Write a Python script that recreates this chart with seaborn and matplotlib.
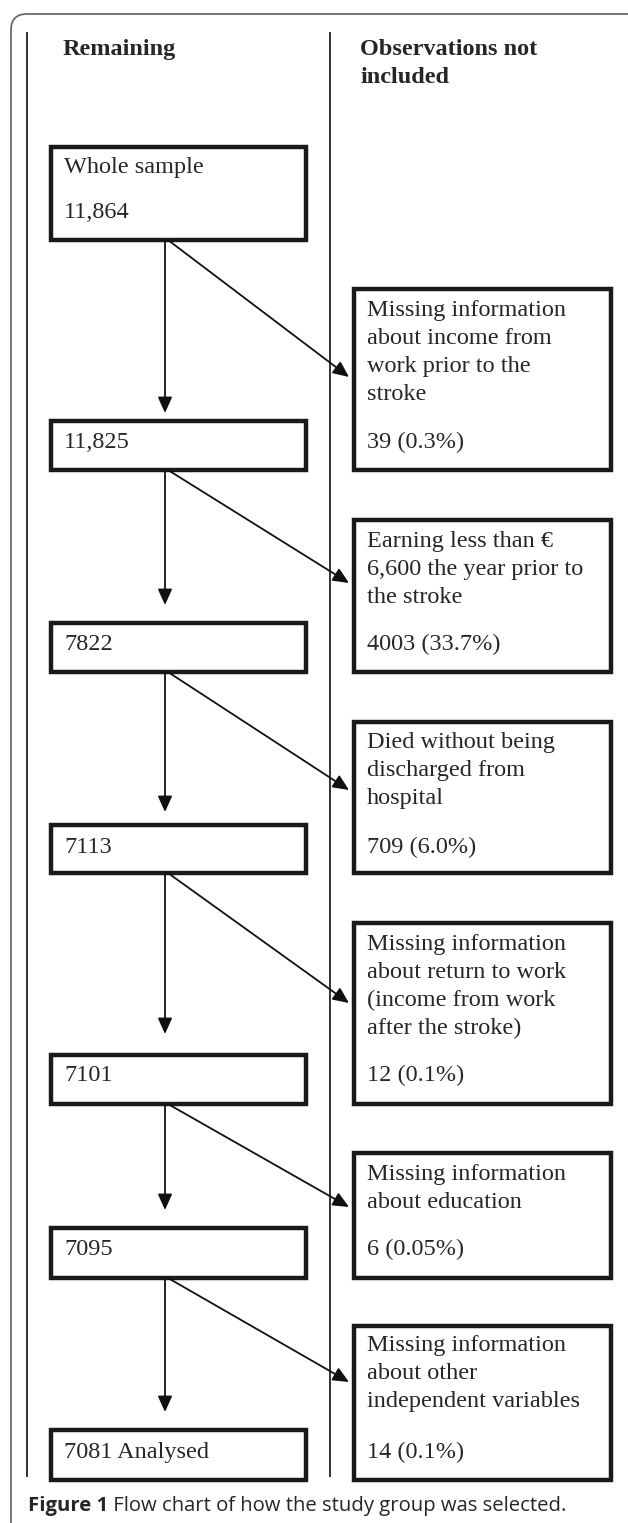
import matplotlib
matplotlib.use("Agg")
import matplotlib.pyplot as plt
from matplotlib.patches import Rectangle, FancyBboxPatch
import seaborn as sns

# ---- data ----
col_headers = ["Remaining", "Observations not\nincluded"]
first_label = "Whole sample"
remaining_labels = ["11,864", "11,825", "7822", "7113", "7101", "7095", "7081 Analysed"]
reasons = [
    ["Missing information", "about income from", "work prior to the", "stroke"],
    ["Earning less than \u20ac", "6,600 the year prior to", "the stroke"],
    ["Died without being", "discharged from", "hospital"],
    ["Missing information", "about return to work", "(income from work", "after the stroke)"],
    ["Missing information", "about education"],
    ["Missing information", "about other", "independent variables"],
]
excluded_counts = [39, 4003, 709, 12, 6, 14]
excluded_pct = ["0.3%", "33.7%", "6.0%", "0.1%", "0.05%", "0.1%"]
caption_bold = "Figure 1"
caption_rest = " Flow chart of how the study group was selected."

# ---- layout (pixel coordinates, y downwards) ----
W, H = 628, 1523
left_x = (51, 306)
right_x = (354, 611)
left_top = [147, 421, 623, 825, 1055, 1228, 1430]
left_bot = [240, 470, 672, 873, 1104, 1278, 1480]
right_top = [289, 520, 722, 923, 1153, 1326]
down_tip = [413, 605, 812, 1034, 1210, 1412]
diag_tip = [377, 583, 790, 1003, 1207, 1382]
num_y = [210, 440, 642, 845, 1073, 1247, 1450]
reason_y0 = [308, 539, 740, 942, 1172, 1343]
line_gap = 28

sns.set_theme(style="white")
serif = ["Liberation Serif", "DejaVu Serif"]
sans = ["Open Sans", "DejaVu Sans"]
fs = 17.5
base = 8  # offset from visual centre to baseline

fig = plt.figure(figsize=(W / 100, H / 100), dpi=100)
ax = fig.add_axes([0, 0, 1, 1])
ax.set_xlim(0, W)
ax.set_ylim(H, 0)
ax.axis("off")

# outer rounded frame (partly cut by the page)
ax.add_patch(FancyBboxPatch((11, 14), 640, 1560, boxstyle="round,pad=0,rounding_size=16",
                            fill=False, ec="#6b6b6b", lw=1.3))

# column separators
for x in (27, 330):
    ax.plot([x, x], [32, 1477], color="#111111", lw=1.2, solid_capstyle="butt")

# headers
ax.text(63, 47 + base, col_headers[0], family=serif, weight="bold", fontsize=fs, va="baseline")
for i, line in enumerate(col_headers[1].split("\n")):
    ax.text(360, 47 + base + i * line_gap, line, family=serif, weight="bold", fontsize=fs,
            va="baseline")

box_kw = dict(fill=False, ec="#1a1a1a", lw=3.2, joinstyle="miter")

# left column boxes
for i, lab in enumerate(remaining_labels):
    ax.add_patch(Rectangle((left_x[0], left_top[i]), left_x[1] - left_x[0],
                           left_bot[i] - left_top[i], **box_kw))
    if i == 0:
        ax.text(64, 165 + base, first_label, family=serif, fontsize=fs, va="baseline")
    ax.text(64, num_y[i] + base, lab, family=serif, fontsize=fs, va="baseline")

arrow_kw = dict(arrowstyle="-|>,head_length=0.6,head_width=0.27", color="#111111", lw=1.3,
                mutation_scale=16, shrinkA=0, shrinkB=0)

# right column boxes + arrows
for i, lines in enumerate(reasons):
    top, bot = right_top[i], left_bot[i + 1]
    ax.add_patch(Rectangle((right_x[0], top), right_x[1] - right_x[0], bot - top, **box_kw))
    for j, line in enumerate(lines):
        ax.text(367, reason_y0[i] + base + j * line_gap, line, family=serif, fontsize=fs,
                va="baseline")
    ax.text(367, num_y[i + 1] + base, f"{excluded_counts[i]:d} ({excluded_pct[i]})",
            family=serif, fontsize=fs, va="baseline")
    # straight down to the next remaining box
    ax.annotate("", xy=(165, down_tip[i]), xytext=(165, left_bot[i]), arrowprops=arrow_kw)
    # diagonal to the excluded box
    ax.annotate("", xy=(349, diag_tip[i]), xytext=(168, left_bot[i]), arrowprops=arrow_kw)

# caption
cap = ax.text(28, 1511, caption_bold, family=sans, weight="bold", fontsize=14.6,
              va="baseline")
ax.annotate(caption_rest, xy=(1, 0), xycoords=cap, va="bottom", ha="left",
            family=sans, fontsize=14.6)

fig.savefig("out.png", dpi=100, facecolor="white")
